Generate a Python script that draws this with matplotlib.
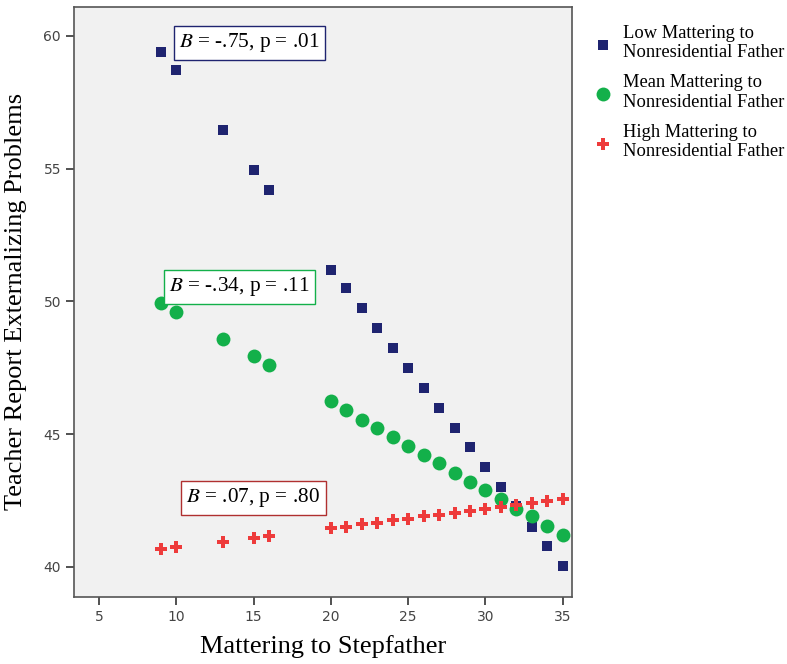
import matplotlib
matplotlib.use("Agg")
import matplotlib.pyplot as plt

# mattering to stepfather (x) and predicted teacher-report externalizing (y)
x_low = [9, 10, 13, 15, 16, 20, 21, 22, 23, 24, 25, 26, 27, 28, 29, 30, 31, 32, 33, 34, 35]
y_low = [59.4, 58.7, 56.45, 54.95, 54.2, 51.2, 50.5, 49.75, 49.0, 48.25, 47.5, 46.75,
         46.0, 45.25, 44.5, 43.75, 43.0, 42.3, 41.5, 40.8, 40.05]

x_mean = [9, 10, 13, 15, 16, 20, 21, 22, 23, 24, 25, 26, 27, 28, 29, 30, 31, 32, 33, 34, 35]
y_mean = [49.95, 49.6, 48.6, 47.95, 47.6, 46.25, 45.9, 45.55, 45.25, 44.9, 44.55, 44.2,
          43.9, 43.55, 43.2, 42.9, 42.55, 42.2, 41.9, 41.55, 41.2]

x_high = [9, 10, 13, 15, 16, 20, 21, 22, 23, 24, 25, 26, 27, 28, 29, 30, 31, 32, 33, 34, 35]
y_high = [40.68, 40.75, 40.95, 41.1, 41.15, 41.45, 41.5, 41.6, 41.65, 41.75, 41.8, 41.9,
          41.95, 42.05, 42.1, 42.2, 42.25, 42.35, 42.4, 42.5, 42.55]

labels = ["Low Mattering to\nNonresidential Father",
          "Mean Mattering to\nNonresidential Father",
          "High Mattering to\nNonresidential Father"]
notes = ["$B$ = -.75, p = .01", "$B$ = -.34, p = .11", "$B$ = .07, p = .80"]
note_xy = [(10.2, 59.74), (9.55, 50.55), (10.65, 42.6)]

navy = "#1f2470"
green = "#13b04a"
red = "#ee3b3b"

plt.rcParams["mathtext.fontset"] = "stix"
serif = "Liberation Serif"

fig = plt.figure(figsize=(7.87, 6.64), dpi=100)
ax = fig.add_axes([0.0944, 0.1014, 0.632, 0.888])
ax.set_facecolor("#f1f1f1")

h1 = ax.scatter(x_low, y_low, marker="s", s=46, color=navy, zorder=3, linewidths=0)
h2 = ax.scatter(x_mean, y_mean, marker="o", s=100, color=green, zorder=4, linewidths=0)
h3 = ax.scatter(x_high, y_high, marker="P", s=65, color=red, zorder=5, linewidths=0)

ax.set_xlim(3.4, 35.58)
ax.set_ylim(38.88, 61.09)
ax.set_xticks([5, 10, 15, 20, 25, 30, 35])
ax.set_yticks([40, 45, 50, 55, 60])
ax.tick_params(direction="out", length=6, width=1.2, colors="#333333",
               labelsize=10, labelcolor="#444444")
for s in ax.spines.values():
    s.set_color("#555555")
    s.set_linewidth(1.2)

ax.set_xlabel("Mattering to Stepfather", fontfamily=serif, fontsize=19, labelpad=8)
ax.set_ylabel("Teacher Report Externalizing Problems", fontfamily=serif, fontsize=19, labelpad=12)

for txt, (tx, ty), c in zip(notes, note_xy, [navy, green, "#b03030"]):
    ax.text(tx, ty, txt, fontfamily=serif, fontsize=15.3, ha="left", va="center", zorder=6,
            bbox=dict(boxstyle="square,pad=0.25", facecolor="white", edgecolor=c, linewidth=1))

fig.legend([h1, h2, h3], labels, loc="upper left", bbox_to_anchor=(0.745, 0.974),
           frameon=False, prop={"family": serif, "size": 13.3}, handletextpad=0.6,
           labelspacing=0.7, handlelength=1.0, borderaxespad=0)

fig.savefig("out.png", dpi=100)
plt.close(fig)
